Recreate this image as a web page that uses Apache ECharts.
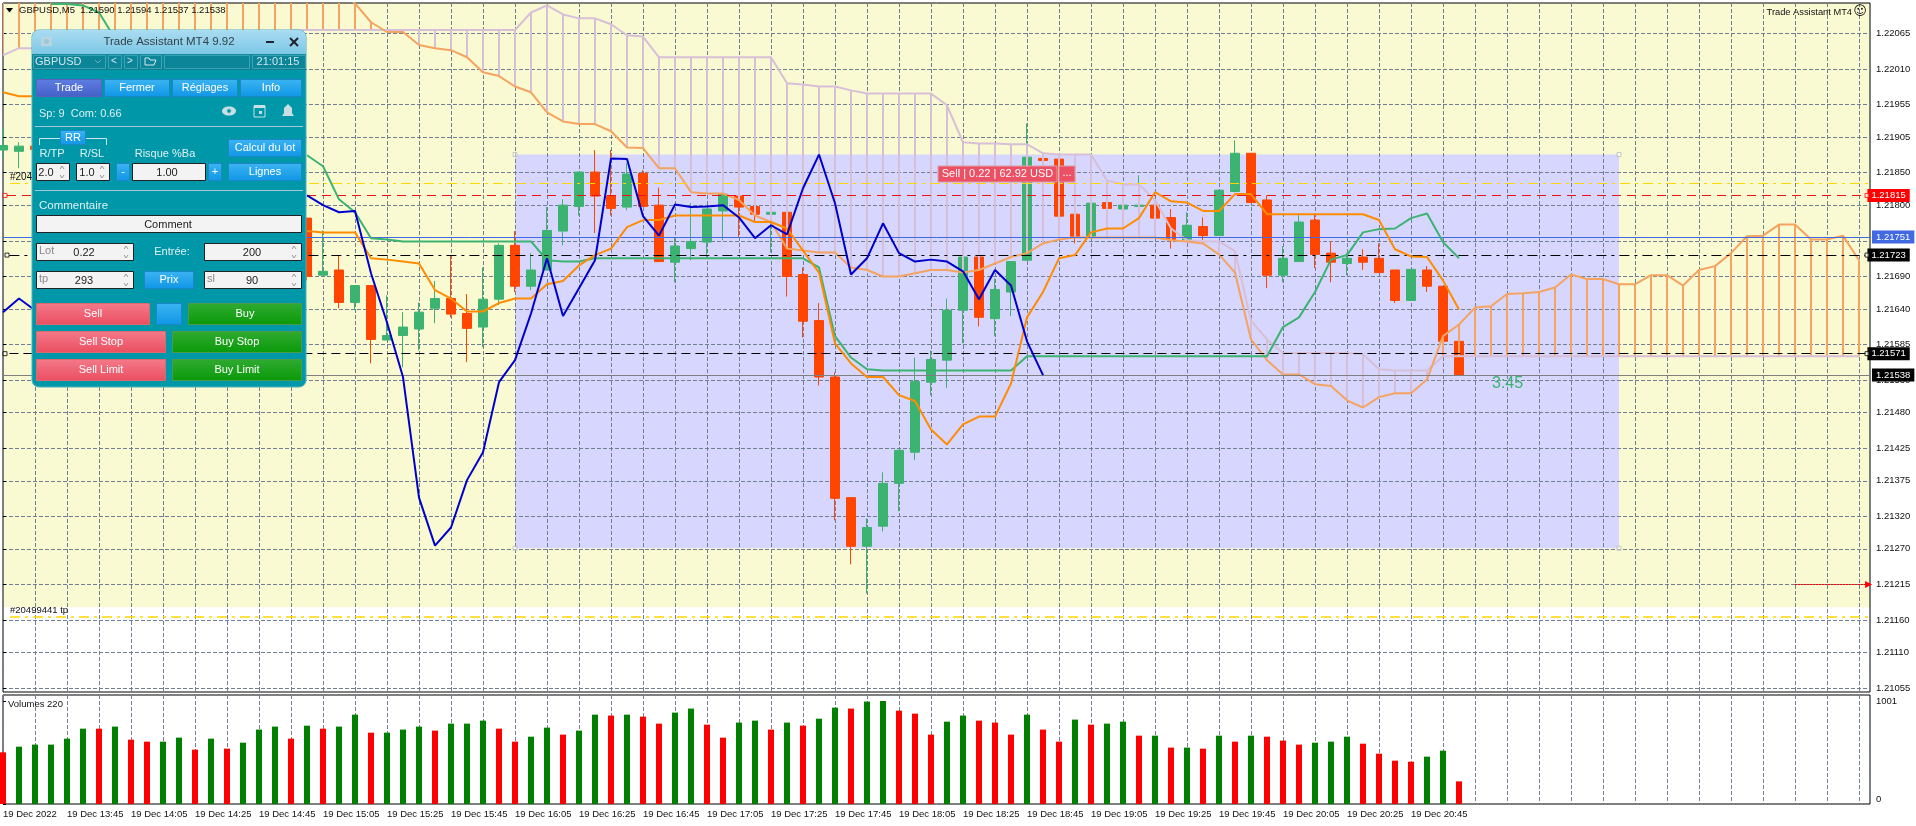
<!DOCTYPE html>
<html><head><meta charset="utf-8"><title>GBPUSD,M5</title>
<style>html,body{margin:0;padding:0;background:#fff;overflow:hidden}#c{width:1916px;height:826px}</style>
<script src="https://cdn.jsdelivr.net/npm/echarts@6/dist/echarts.min.js"></script>
</head><body><div id="c"></div>
<script>
const _=null;
// OHLC, bars 0..91 (bars 3..18 are hidden behind the panel)
const candleOpen=[1.21885,1.21883,1.21891,_,_,_,_,_,_,_,
_,_,_,_,_,_,_,_,_,1.21780,
1.21692,1.21700,1.21650,1.21676,1.21592,1.21599,1.21609,1.21641,1.21656,1.21633,
1.21612,1.21655,1.21738,1.21675,1.21700,1.21760,1.21798,1.21851,1.21814,1.21797,
1.21849,1.21800,1.21712,1.21733,1.21743,1.21791,1.21814,1.21798,1.21786,1.21789,
1.21693,1.21622,1.21535,1.21349,1.21274,1.21305,1.21371,1.21419,1.21527,1.21561,
1.21638,1.21720,1.21625,1.21666,1.21715,1.21872,1.21871,1.21786,1.21752,1.21804,
1.21794,1.21798,1.21800,1.21781,1.21747,1.21767,1.21753,1.21821,1.21880,1.21808,
1.21692,1.21713,1.21777,1.21726,1.21710,1.21720,1.21718,1.21700,1.21653,1.21700,
1.21675,1.21590];
const candleClose=[1.21892,1.21891,1.21886,_,_,_,_,_,_,_,
_,_,_,_,_,_,_,_,_,1.21690,
1.21698,1.21650,1.21676,1.21593,1.21599,1.21612,1.21635,1.21656,1.21632,1.21610,
1.21655,1.21738,1.21675,1.21700,1.21761,1.21800,1.21851,1.21814,1.21795,1.21848,
1.21798,1.21713,1.21737,1.21744,1.21794,1.21817,1.21797,1.21786,1.21789,1.21690,
1.21621,1.21535,1.21348,1.21274,1.21303,1.21371,1.21422,1.21528,1.21562,1.21638,
1.21720,1.21627,1.21670,1.21713,1.21874,1.21869,1.21783,1.21752,1.21803,1.21795,
1.21800,1.21800,1.21780,1.21747,1.21769,1.21753,1.21823,1.21880,1.21804,1.21692,
1.21718,1.21774,1.21724,1.21712,1.21718,1.21712,1.21696,1.21653,1.21701,1.21675,
1.21590,1.21538];
const candleLow=[1.21872,1.21857,1.21886,_,_,_,_,_,_,_,
_,_,_,_,_,_,_,_,_,1.21684,
1.21692,1.21641,1.21638,1.21556,1.21592,1.21550,1.21576,1.21618,1.21627,1.21558,
1.21581,1.21646,1.21666,1.21669,1.21700,1.21738,1.21784,1.21757,1.21784,1.21792,
1.21798,1.21713,1.21681,1.21715,1.21720,1.21746,1.21750,1.21775,1.21727,1.21659,
1.21596,1.21522,1.21314,1.21246,1.21201,1.21297,1.21328,1.21407,1.21507,1.21518,
1.21587,1.21613,1.21598,1.21629,1.21715,1.21869,1.21783,1.21741,1.21752,1.21749,
1.21794,1.21798,1.21780,1.21733,1.21747,1.21746,1.21753,1.21820,1.21804,1.21672,
1.21681,1.21713,1.21703,1.21681,1.21692,1.21700,1.21696,1.21649,1.21653,1.21666,
1.21590,1.21537];
const candleHigh=[1.21920,1.21897,1.21891,_,_,_,_,_,_,_,
_,_,_,_,_,_,_,_,_,1.21780,
1.21761,1.21723,1.21676,1.21676,1.21661,1.21635,1.21650,1.21683,1.21723,1.21663,
1.21704,1.21741,1.21760,1.21726,1.21797,1.21809,1.21851,1.21885,1.21885,1.21865,
1.21854,1.21827,1.21750,1.21803,1.21794,1.21817,1.21815,1.21798,1.21789,1.21789,
1.21704,1.21649,1.21542,1.21349,1.21317,1.21388,1.21422,1.21565,1.21576,1.21656,
1.21720,1.21720,1.21687,1.21713,1.21926,1.21881,1.21871,1.21786,1.21803,1.21804,
1.21800,1.21846,1.21800,1.21794,1.21789,1.21781,1.21823,1.21900,1.21880,1.21815,
1.21737,1.21787,1.21787,1.21744,1.21726,1.21732,1.21741,1.21700,1.21701,1.21706,
1.21675,1.21594];
const volumes=[502,557,577,577,635,732,732,752,625,606,
606,645,528,635,538,596,723,752,635,761,
732,752,868,693,693,723,752,713,781,781,
810,732,606,654,742,674,713,868,859,868,
849,781,888,927,771,645,791,810,723,791,
761,829,936,927,995,1001,907,878,674,800,
859,810,791,674,868,723,606,820,771,781,
800,664,664,548,548,538,664,606,664,654,
616,577,596,606,654,586,489,421,411,460,
518,220];
const volumeUp=[0,1,1,1,1,1,0,1,0,0,
1,1,0,1,0,1,1,1,0,1,
0,1,1,0,1,1,1,0,1,1,
1,0,0,1,1,0,1,1,0,1,
0,0,1,1,0,0,1,1,0,1,
0,1,1,0,1,1,0,0,0,1,
1,0,0,0,1,0,0,1,0,1,
1,0,1,0,1,0,1,0,1,0,
0,0,1,1,1,0,0,0,0,1,
1,0];
const blueLine=[1.21635,1.21656,1.21638,_,_,_,_,_,_,_,
_,_,_,_,_,_,_,_,_,1.21815,
1.21800,1.21789,1.21791,1.21695,1.21619,1.21535,1.21349,1.21275,1.21303,1.21376,
1.21419,1.21527,1.21561,1.21633,1.21718,1.21629,1.21672,1.21715,1.21872,1.21871,
1.21783,1.21753,1.21801,1.21797,1.21798,1.21800,1.21781,1.21749,1.21769,1.21755,
1.21826,1.21878,1.21803,1.21693,1.21718,1.21772,1.21726,1.21713,1.21716,1.21713,
1.21698,1.21655,1.21700,1.21676,1.21590,1.21538];
const greenLine=[_,_,_,1.22110,1.22110,1.22108,1.22097,1.22057,_,_,
_,_,_,_,_,_,_,_,_,1.21877,
1.21860,1.21809,1.21789,1.21749,1.21747,1.21744,1.21744,1.21744,1.21744,1.21744,
1.21744,1.21744,1.21744,1.21744,1.21715,1.21713,1.21713,1.21718,1.21718,1.21718,
1.21718,1.21718,1.21718,1.21718,1.21718,1.21718,1.21718,1.21718,1.21718,1.21718,
1.21718,1.21704,1.21598,1.21565,1.21547,1.21545,1.21545,1.21545,1.21545,1.21545,
1.21545,1.21545,1.21545,1.21545,1.21567,1.21567,1.21567,1.21567,1.21567,1.21567,
1.21567,1.21567,1.21567,1.21567,1.21567,1.21567,1.21567,1.21567,1.21567,1.21567,
1.21612,1.21627,1.21666,1.21716,1.21723,1.21758,1.21763,1.21764,1.21780,1.21787,
1.21743,1.21718];
const orangeLine=[1.21974,1.21968,1.21968,_,_,_,_,_,_,_,
_,_,_,_,_,_,_,_,_,1.21760,
1.21758,1.21758,1.21758,1.21718,1.21716,1.21713,1.21710,1.21669,1.21656,1.21636,
1.21636,1.21649,1.21656,1.21656,1.21678,1.21683,1.21707,1.21723,1.21733,1.21766,
1.21777,1.21777,1.21784,1.21784,1.21784,1.21784,1.21784,1.21774,1.21774,1.21764,
1.21730,1.21696,1.21587,1.21556,1.21535,1.21535,1.21507,1.21498,1.21454,1.21431,
1.21462,1.21474,1.21474,1.21525,1.21627,1.21666,1.21718,1.21723,1.21758,1.21764,
1.21764,1.21780,1.21820,1.21806,1.21804,1.21791,1.21791,1.21817,1.21817,1.21786,
1.21786,1.21786,1.21786,1.21786,1.21786,1.21786,1.21777,1.21732,1.21721,1.21720,
1.21684,1.21639];
// cloud spans run 25 bars past the last candle; span A starts above the visible range
const spanA=[1.22135,1.22135,1.22135,1.22135,1.22135,1.22135,1.22135,1.22135,1.22135,1.22135,
1.22135,1.22135,1.22135,1.22135,1.22135,1.22135,1.22135,1.22135,1.22135,1.22135,
1.22135,1.22135,1.22111,1.22082,1.22067,1.22067,1.22047,1.22042,1.22039,1.22028,
1.22005,1.21999,1.21983,1.21974,1.21943,1.21929,1.21925,1.21925,1.21914,1.21889,
1.21888,1.21857,1.21857,1.21820,1.21818,1.21818,1.21808,1.21784,1.21774,1.21733,
1.21730,1.21727,1.21727,1.21704,1.21700,1.21690,1.21690,1.21695,1.21700,1.21700,
1.21696,1.21700,1.21710,1.21720,1.21726,1.21741,1.21747,1.21750,1.21750,1.21750,
1.21750,1.21750,1.21750,1.21746,1.21744,1.21741,1.21724,1.21696,1.21593,1.21561,
1.21539,1.21539,1.21524,1.21521,1.21499,1.21488,1.21504,1.21510,1.21510,1.21531,
1.21598,1.21616,1.21642,1.21644,1.21663,1.21664,1.21666,1.21673,1.21693,1.21686,
1.21686,1.21678,1.21678,1.21692,1.21692,1.21676,1.21700,1.21706,1.21726,1.21752,
1.21753,1.21770,1.21770,1.21747,1.21747,1.21753,1.21715];
const spanB=[1.22031,1.22042,1.22042,1.22042,1.22042,1.22042,1.22042,1.22042,1.22042,1.22042,
1.22042,1.22042,1.22042,1.22042,1.22042,1.22042,1.22042,1.22042,1.22070,1.22070,
1.22070,1.22070,1.22070,1.22070,1.22070,1.22070,1.22070,1.22070,1.22070,1.22070,
1.22070,1.22070,1.22070,1.22097,1.22108,1.22094,1.22088,1.22088,1.22079,1.22062,
1.22060,1.22028,1.22028,1.22028,1.22028,1.22028,1.22028,1.22028,1.22028,1.21988,
1.21986,1.21983,1.21983,1.21977,1.21972,1.21972,1.21972,1.21972,1.21972,1.21954,
1.21897,1.21895,1.21895,1.21894,1.21894,1.21880,1.21878,1.21878,1.21878,1.21838,
1.21832,1.21832,1.21808,1.21764,1.21746,1.21744,1.21744,1.21729,1.21622,1.21593,
1.21572,1.21572,1.21572,1.21572,1.21572,1.21570,1.21547,1.21545,1.21545,1.21545,
1.21567,1.21567,1.21567,1.21567,1.21567,1.21567,1.21567,1.21567,1.21567,1.21567,
1.21567,1.21567,1.21567,1.21567,1.21567,1.21567,1.21567,1.21567,1.21567,1.21567,
1.21567,1.21567,1.21567,1.21567,1.21567,1.21567,1.21567];
const priceTicks=[1.22065,1.22010,1.21955,1.21905,1.21850,1.21800,1.21745,1.21690,1.21640,1.21585,1.21530,1.21480,1.21425,1.21375,1.21320,1.21270,1.21215,1.21160,1.21110,1.21055];
const timeLabels=['19 Dec 2022','19 Dec 13:45','19 Dec 14:05','19 Dec 14:25','19 Dec 14:45','19 Dec 15:05','19 Dec 15:25','19 Dec 15:45','19 Dec 16:05','19 Dec 16:25','19 Dec 16:45','19 Dec 17:05','19 Dec 17:25','19 Dec 17:45','19 Dec 18:05','19 Dec 18:25','19 Dec 18:45','19 Dec 19:05','19 Dec 19:25','19 Dec 19:45','19 Dec 20:05','19 Dec 20:25','19 Dec 20:45'];
const labelBars=[0,4,8,12,16,20,24,28,32,36,40,44,48,52,56,60,64,68,72,76,80,84,88];
const volumeTicks=[0,1001];
const takeZone=[1.21180];      // lower edge of the pale yellow zone
const tradeBox=[32,101,1.21878,1.21271]; // bar from, bar to, price top, price bottom
const levelGold=[1.21834,1.21166], levelSl=[1.21815], levelAsk=[1.21751], levelEntry=[1.21723], levelTp=[1.21571], levelBid=[1.21538], levelArrow=[1.21215];

const FONT='"Liberation Sans",Arial,sans-serif';
const LEFT=3,RIGHT=1870,BARPX=16,XMAX=(RIGHT-LEFT)/BARPX;
const PTOP=3,PBOT=692,VTOP=695,VBOT=804;
const YMIN=1.210493,YMAX=1.221117;
const candles=[];candleOpen.forEach((o,i)=>{if(o!==null)candles.push([i,o,candleClose[i],candleLow[i],candleHigh[i]]);});
const pts=a=>a.map((v,i)=>[i,v]);
const rectItem=(fill)=>(p,api)=>{const a=api.coord([api.value(0),api.value(2)]),b=api.coord([api.value(1),api.value(3)]);
 return {type:'rect',shape:{x:a[0],y:a[1],width:b[0]-a[0],height:b[1]-a[1]},style:{fill}};};
const lineS=(name,data,color,z)=>({name,type:'line',xAxisIndex:0,yAxisIndex:0,data:pts(data),symbol:'none',z,clip:true,lineStyle:{color,width:2},silent:true,connectNulls:false});
const ml=(val,x0,x1,color,type,tag,tagBg,width)=>[{coord:[x0,val],lineStyle:{color,type,width:width||1},
  label:tag?{show:true,position:'end',distance:2,formatter:val.toFixed(5),color:'#fff',backgroundColor:tagBg,padding:[2,4,1,4],fontSize:9.5,fontFamily:FONT}:{show:false}},{coord:[x1,val]}];
const handles=[[0.125,levelSl[0],'#f00'],[116.5,levelSl[0],'#f00'],[0.25,levelEntry[0],'#000'],[116.5,levelEntry[0],'#000'],[0.125,levelTp[0],'#000'],[116.5,levelTp[0],'#000'],
 [tradeBox[0],tradeBox[2],'#bbb'],[tradeBox[1],tradeBox[2],'#bbb'],[tradeBox[0],tradeBox[3],'#bbb'],[tradeBox[1],tradeBox[3],'#bbb']];

/* ---- on-chart text and the trade panel, as ECharts graphics ---- */
const G=[],Z=100;
const grad=(a,b)=>new echarts.graphic.LinearGradient(0,0,0,1,[{offset:0,color:a},{offset:1,color:b}]);
function R(x,y,w,h,fill,stroke,r){G.push({type:'rect',z:Z,silent:true,shape:{x,y,width:w,height:h,r:r||0},style:{fill,stroke:stroke||null,lineWidth:1}});}
function T(text,x,y,fill,size,align,fam){G.push({type:'text',z:Z,silent:true,style:{text,x,y,fill,font:(size||11)+'px '+(fam||FONT),align:align||'left',verticalAlign:'middle',textAlign:align||'left',textVerticalAlign:'middle'}});}
function P(points,stroke,w){G.push({type:'polyline',z:Z,silent:true,shape:{points},style:{stroke,fill:null,lineWidth:w||1}});}
function B(x,y,w,h,label,c1,c2,border,color,size){R(x+.5,y+.5,w-1,h-1,grad(c1,c2),border);if(label)T(label,x+w/2,y+h/2,color||'#fff',size||11,'center');}
const sky=['#3cb4f2','#0f96e6','#1c86c8'];
function input(x,w,y,h,label,val,vx,spin){R(x+.5,y+.5,w-1,h-1,'#f3f3f3','#222');
 if(label)T(label,x+3,y+h/2-1,'#8a8a8a',11);
 T(val,vx,y+h/2+.5,'#222',11,'center');
 if(spin){const sx=x+w-8;P([[sx-2,y+h/2-3],[sx,y+h/2-6],[sx+2,y+h/2-3]],'#999');P([[sx-2,y+h/2+3],[sx,y+h/2+6],[sx+2,y+h/2+3]],'#999');}}

// header texts
G.push({type:'polygon',z:Z,silent:true,shape:{points:[[6,8],[13,8],[9.5,12.5]]},style:{fill:'#000'}});
T('GBPUSD,M5  1.21590 1.21594 1.21537 1.21538',19,10.5,'#111',9.5);
T('Trade Assistant MT4',1852,12,'#111',9.3,'right');
T('☺',1860,12,'#111',13,'center','"DejaVu Sans"');
T('Volumes 220',8,704,'#111',9.5);
T('#204',10,177,'#111',10);
T('#20499441 tp',10,610,'#111',9.5);
T('3:45',1492,384,'#3CB371',16);
// order tag
R(938,166,119,16,'#ec5064','#d9a0a8');T('Sell | 0.22 | 62.92 USD',997.5,174,'#fff',11,'center');
R(1059,166,16,16,'#ec5064','#d9a0a8');T('...',1067,173,'#fff',11,'center');
// panel
R(32,30,274,357,'#0098a8','#4fb0bc',7);
G.push({type:'rect',z:Z,silent:true,shape:{x:32,y:30,width:274,height:24,r:[7,7,0,0]},style:{fill:grad('#aadcf2','#7cc8e6')}});
R(41,37,11,9,'#b8d4df');G.push({type:'circle',z:Z,silent:true,shape:{cx:46.5,cy:41.5,r:2.5},style:{fill:'#9fc6d6'}});
T('Trade Assistant MT4 9.92',169,42,'#33414a',11.5,'center');
P([[266,42],[274,42]],'#223',2);P([[290,38],[298,46]],'#223',2);P([[298,38],[290,46]],'#223',2);
R(32,54,274,16,grad('#118ca0','#0c7f92'));
[[33,73],[108,14],[124,14],[140,22],[164,86],[252,54]].forEach(a=>R(a[0]+.5,55.5,a[1]-1,13,'#0c8598','#3aa3b3'));
T('GBPUSD',35,61.5,'#cfe6ec',11);P([[95,60],[98,63],[101,60]],'#6fb0be');
T('<',114,61,'#d4e8ee',10,'center');T('>',130,61,'#d4e8ee',10,'center');
P([[145,65],[145,58],[149,58],[150,60],[156,60],[154,65],[145,65]],'#d4e8ee');
T('21:01:15',278,61.5,'#cfe6ec',11,'center');
B(36,79,66,18,'Trade','#5f7ee0','#4360c8','#5a5fc0');
B(104,79,66,18,'Fermer',sky[0],sky[1],sky[2]);B(172,79,66,18,'Réglages',sky[0],sky[1],sky[2]);B(240,79,62,18,'Info',sky[0],sky[1],sky[2]);
T('Sp: 9  Com: 0.66',39,114,'#dff0f3',11);
// eye, calendar, bell
G.push({type:'ellipse',z:Z,silent:true,shape:{cx:229,cy:111,rx:7,ry:4.5},style:{fill:'#c8dfe6'}});
G.push({type:'circle',z:Z,silent:true,shape:{cx:229,cy:111,r:2.4},style:{fill:'#0098a8',stroke:'#c8dfe6'}});
R(254,106,11,11,null,'#c8dfe6');R(254,105,11,3,'#c8dfe6');R(259,111,3,3,'#c8dfe6');
G.push({type:'polygon',z:Z,silent:true,shape:{points:[[288,104],[292,108],[292,113],[294,116],[282,116],[284,113],[284,108]]},style:{fill:'#c8dfe6'}});
R(35,126,268,1,'#a5c8d8');
P([[39.5,145],[39.5,138.5],[60,138.5]],'#d0e4ea');P([[86,138.5],[106.5,138.5],[106.5,145]],'#d0e4ea');
B(60,130,26,15,'RR',sky[0],sky[1],sky[2]);
T('R/TP',52,154,'#dff0f3',11,'center');T('R/SL',92,154,'#dff0f3',11,'center');T('Risque %Ba',165,154,'#dff0f3',11,'center');
B(228,139,74,18,'Calcul du lot',sky[0],sky[1],sky[2]);
input(36,34,163,18,'','2.0',46,true);input(76,34,163,18,'','1.0',87,true);
B(116,163,14,18,'-',sky[0],sky[1],sky[2]);input(132,74,163,18,'','1.00',167,false);B(208,163,14,18,'+',sky[0],sky[1],sky[2]);
B(228,163,74,18,'Lignes',sky[0],sky[1],sky[2]);
R(35,190,268,1,'#a5c8d8');
T('Commentaire',39,206,'#dff0f3',11.5);
input(36,266,215,18,'','Comment',168,false);
input(36,98,243,18,'Lot','0.22',84,true);T('Entrée:',172,252,'#dff0f3',11,'center');input(204,98,243,18,'','200',252,true);
input(36,98,271,18,'tp','293',84,true);B(144,271,50,18,'Prix',sky[0],sky[1],sky[2]);input(204,98,271,18,'sl','90',252,true);
const rd=['#f47a8a','#ea4e60','#d86a70'],gn=['#30aa30','#0a9a0a','#4a9a4a'];
B(36,303,114,22,'Sell',rd[0],rd[1],rd[2]);B(156,303,26,22,'',sky[0],sky[1],sky[2]);B(188,303,114,22,'Buy',gn[0],gn[1],gn[2]);
B(36,331,130,22,'Sell Stop',rd[0],rd[1],rd[2]);B(172,331,130,22,'Buy Stop',gn[0],gn[1],gn[2]);
B(36,359,130,22,'Sell Limit',rd[0],rd[1],rd[2]);B(172,359,130,22,'Buy Limit',gn[0],gn[1],gn[2]);

const gridDash={color:'#708090',width:1,type:[4,2]};
const option={animation:false,backgroundColor:'#fff',
 grid:[{left:LEFT,width:RIGHT-LEFT,top:PTOP,height:PBOT-PTOP,show:true,borderColor:'#000',borderWidth:1,backgroundColor:'transparent'},
       {left:LEFT,width:RIGHT-LEFT,top:VTOP,height:VBOT-VTOP,show:true,borderColor:'#000',borderWidth:1,backgroundColor:'transparent'}],
 xAxis:[{type:'value',gridIndex:0,min:0,max:XMAX,interval:2,axisLine:{show:false},axisTick:{show:false},axisLabel:{show:false},splitLine:{show:true,lineStyle:gridDash}},
        {type:'value',gridIndex:1,min:0,max:XMAX,interval:2,position:'bottom',axisLine:{show:false},axisTick:{show:false},splitLine:{show:true,lineStyle:gridDash},
         axisLabel:{show:true,customValues:labelBars,align:'left',margin:5,color:'#111',fontSize:9.5,fontFamily:FONT,hideOverlap:false,formatter:v=>timeLabels[labelBars.indexOf(v)]||''}}],
 yAxis:[{type:'value',gridIndex:0,position:'right',min:YMIN,max:YMAX,scale:true,axisLine:{show:false},
         axisTick:{show:true,length:3,lineStyle:{color:'#000'},customValues:priceTicks},
         splitLine:{show:true,lineStyle:gridDash},
         axisLabel:{show:true,customValues:priceTicks,margin:6,color:'#111',fontSize:9.5,fontFamily:FONT,formatter:v=>v.toFixed(5),showMinLabel:true,showMaxLabel:true,hideOverlap:false}},
        {type:'value',gridIndex:1,position:'right',min:0,max:1059,axisLine:{show:false},
         axisTick:{show:true,length:3,lineStyle:{color:'#000'},customValues:volumeTicks},splitLine:{show:false},
         axisLabel:{show:true,customValues:volumeTicks,margin:6,color:'#111',fontSize:9.5,fontFamily:FONT,verticalAlignMinLabel:'bottom',hideOverlap:false,formatter:v=>String(v)}}],
 series:[
  {type:'custom',name:'zone',xAxisIndex:0,yAxisIndex:0,z:-2,clip:true,silent:true,encode:{x:[0,1],y:[2,3]},data:[[0,XMAX,YMAX,takeZone[0]]],renderItem:rectItem('#FAFAD2')},
  {type:'custom',name:'box',xAxisIndex:0,yAxisIndex:0,z:-1,clip:true,silent:true,encode:{x:[0,1],y:[2,3]},data:[tradeBox],renderItem:rectItem('#D6D6FE')},
  {type:'candlestick',name:'GBPUSD',xAxisIndex:0,yAxisIndex:0,z:3,clip:true,silent:true,barWidth:10,encode:{x:0,y:[1,2,3,4]},data:candles,
   itemStyle:{color:'#3CB371',color0:'#FF4500',borderColor:'#3CB371',borderColor0:'#FF4500',borderWidth:1}},
  {type:'custom',name:'cloud',xAxisIndex:0,yAxisIndex:0,z:4,clip:true,silent:true,encode:{x:0,y:[1,2]},data:spanA.map((a,i)=>[i,a,spanB[i]]),
   renderItem:(p,api)=>{const k=api.value(0),a=api.value(1),b=api.value(2),t=api.coord([k,a]),u=api.coord([k,b]);
     return {type:'line',shape:{x1:t[0],y1:t[1],x2:u[0],y2:u[1]},style:{stroke:a>b?'#F4A460':'#D8BFD8',lineWidth:2}};}},
  lineS('Senkou B',spanB,'#D8BFD8',4),
  lineS('Senkou A',spanA,'#F4A460',4),
  lineS('Kijun',greenLine,'#3CB371',5),
  lineS('Tenkan',orangeLine,'#FF8C00',5),
  lineS('Chikou',blueLine,'#0000CD',5),
  {type:'line',name:'levels',xAxisIndex:0,yAxisIndex:0,z:6,silent:true,symbol:'none',data:[[0,YMIN]],lineStyle:{opacity:0},
   markLine:{silent:true,symbol:'none',animation:false,precision:5,data:[
     ml(levelGold[0],0.44,XMAX,'#FFD700',[10,5,3,5]),
     ml(levelSl[0],0.25,116.4,'#EE1111',[9,6],true,'#FF0000'),
     ml(levelAsk[0],0,XMAX,'#4169E1','solid',true,'#4169E1'),
     ml(levelEntry[0],0.4,116.4,'#000',[10,5,3,5],true,'#000'),
     ml(levelTp[0],0.4,116.4,'#000',[9,5],true,'#000'),
     ml(levelBid[0],0,XMAX,'#808080','solid',true,'#000'),
     ml(levelGold[1],0.44,XMAX,'#FFD700',[10,5,3,5],false,null,1.5)]}},
  {type:'line',name:'arrow',xAxisIndex:0,yAxisIndex:0,z:6,silent:true,symbol:'none',data:[[0,YMIN]],lineStyle:{opacity:0},
   markLine:{silent:true,symbol:['none','triangle'],symbolSize:7,animation:false,data:[[{coord:[112,levelArrow[0]],lineStyle:{color:'#f00',type:[2,1],width:1},label:{show:false}},{coord:[116.6,levelArrow[0]]}]]}},
  {type:'scatter',name:'handles',xAxisIndex:0,yAxisIndex:0,z:7,silent:true,symbol:'rect',symbolSize:4,data:handles.map(h=>({value:[h[0],h[1]],itemStyle:{color:'rgba(255,255,255,.6)',borderColor:h[2],borderWidth:1}}))},
  {type:'bar',name:'Volumes',xAxisIndex:1,yAxisIndex:1,z:3,clip:true,silent:true,barWidth:6,data:volumes.map((v,i)=>({value:[i,v],itemStyle:{color:volumeUp[i]?'#008000':'#FF0000'}}))}
 ],
 graphic:{elements:G}
};
const chart=echarts.init(document.getElementById('c'));
chart.setOption(option);
</script></body></html>
